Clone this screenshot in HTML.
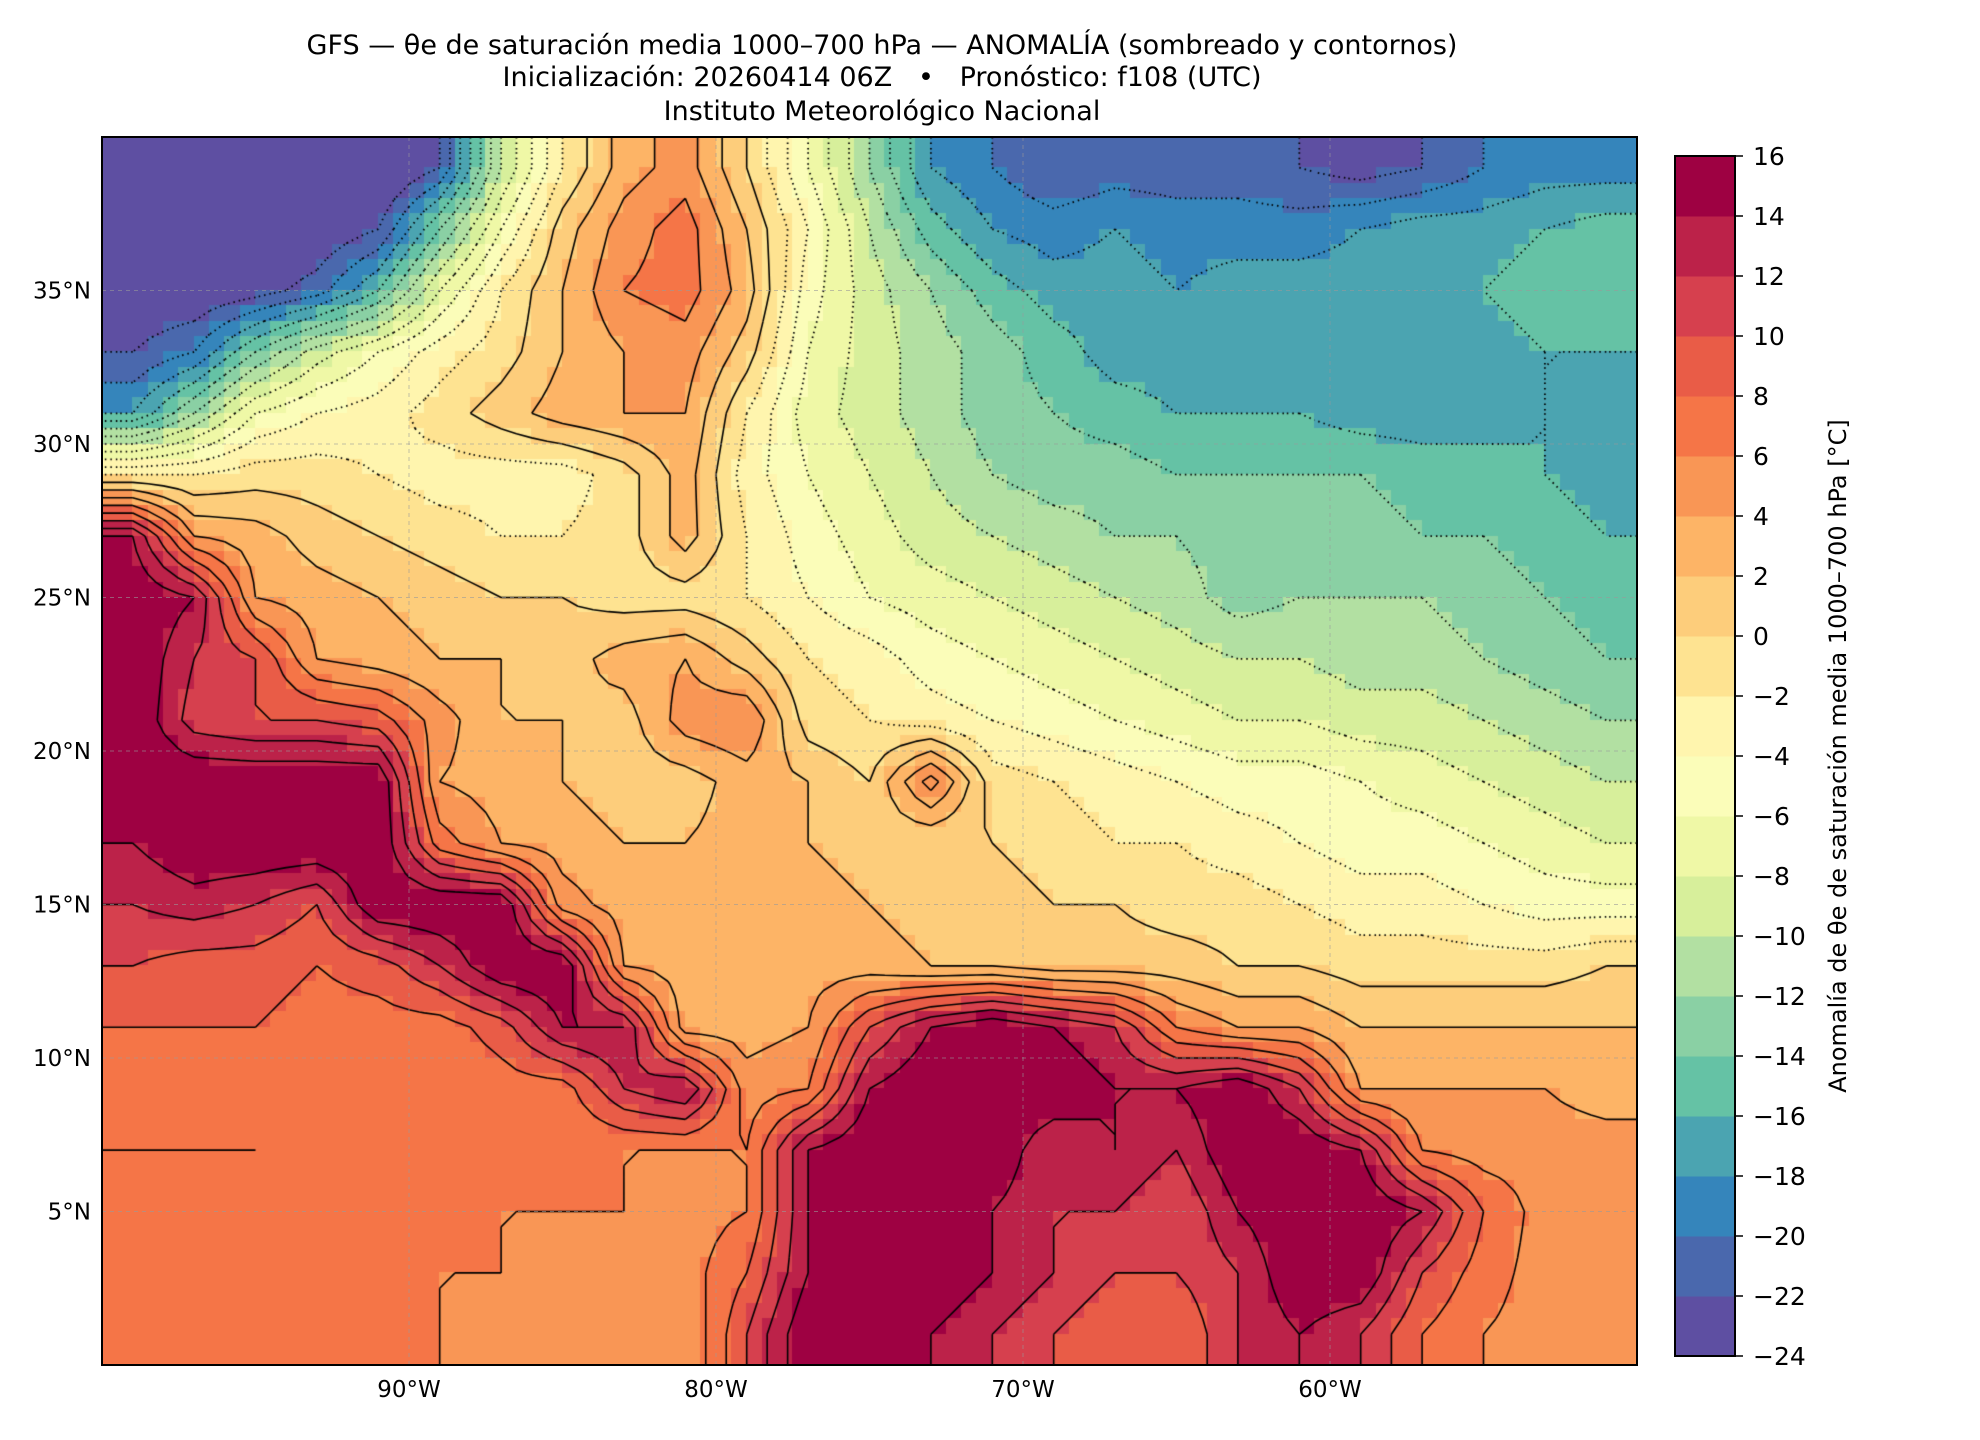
<!DOCTYPE html>
<html><head><meta charset="utf-8">
<style>
html,body{margin:0;padding:0;background:#fff;}
#wrap{position:relative;width:1980px;height:1440px;font-family:"DejaVu Sans","Liberation Sans",sans-serif;color:#000;}
.t{position:absolute;white-space:nowrap;}
</style></head>
<body>
<div id="wrap">
<div class="t" style="left:882px;top:30px;transform:translateX(-50%);font-size:27px;">GFS — θe de saturación media 1000–700 hPa — ANOMALÍA (sombreado y contornos)</div>
<div class="t" style="left:882px;top:62px;transform:translateX(-50%);font-size:27px;">Inicialización: 20260414 06Z &nbsp; • &nbsp; Pronóstico: f108 (UTC)</div>
<div class="t" style="left:882px;top:96px;transform:translateX(-50%);font-size:27px;">Instituto Meteorológico Nacional</div>
<canvas id="map" width="1535" height="1228" style="position:absolute;left:102px;top:137px;"></canvas>
<svg id="svg" width="1980" height="1440" style="position:absolute;left:0;top:0;"></svg>
</div>
<script>
const lonMin=-100, lonMax=-50, latMin=0, latMax=40;
const levels=[-24,-22,-20,-18,-16,-14,-12,-10,-8,-6,-4,-2,0,2,4,6,8,10,12,14,16];
const colors=["#5e4fa2","#4a68ad","#3585bb","#4ba4b1","#65c2a5","#8ad0a4","#b2e0a2","#d7ef9b","#eff8a6","#fbfdb9","#fff5ae","#fee391","#fdcd7b","#fdb466","#f99655","#f57547","#e95c47","#d6404e","#bc2249","#9e0142"];
const lonTicks=[-90,-80,-70,-60];
const lonTickLabels=["90°W","80°W","70°W","60°W"];
const latTicks=[5,10,15,20,25,30,35];
const latTickLabels=["5°N","10°N","15°N","20°N","25°N","30°N","35°N"];
const gridLons=[-99,-97,-95,-93,-91,-89,-87,-85,-83,-81,-79,-77,-75,-73,-71,-69,-67,-65,-63,-61,-59,-57,-55,-53,-51];
const gridLats=[39,37,35,33,31,29,27,25,23,21,19,17,15,13,11,9,7,5,3,1];
const anomaly=[
[-25,-25,-25,-25,-25,-22,-10,-2,3,5,0,-6,-12,-18,-20,-22,-21,-21,-21,-22,-23,-22,-20,-19,-19],
[-25,-25,-25,-24,-22,-14,-6,1,5,7,2,-4,-10,-15,-18,-19,-18,-19,-19,-19,-18,-17,-17,-16,-15],
[-24,-24,-23,-21,-16,-8,-2,2,6,7,3,-5,-9,-12,-15,-17,-17,-18,-17,-17,-17,-17,-16,-15,-15],
[-22,-20,-14,-9,-6,-3,-1,2,4,5,1,-6,-9,-11,-13,-15,-17,-17,-17,-17,-17,-17,-17,-16,-16],
[-18,-12,-6,-4,-3,-1,1,3,4,4,-2,-7,-9,-11,-13,-14,-15,-16,-16,-16,-17,-17,-17,-16,-17],
[-2,-2,-1,-1,-2,-3,-3,-3,-1,3,-3,-6,-8,-10,-12,-13,-13,-14,-14,-14,-14,-15,-15,-16,-17],
[14,4,3,1,0,-1,-2,-2,-1,3,-2,-5,-7,-9,-10,-11,-12,-12,-13,-13,-13,-14,-14,-15,-16],
[16,14,4,3,2,1,0,0,-1,-1,-2,-4,-6,-7,-8,-9,-10,-11,-13,-12,-12,-12,-13,-14,-15],
[16,12,10,4,3,2,2,1,3,4,1,-2,-3,-5,-6,-7,-8,-9,-10,-10,-11,-11,-12,-13,-14],
[16,11,10,10,9,5,2,2,1,5,6,-1,-2,-3,-4,-5,-6,-7,-8,-8,-9,-9,-10,-11,-12],
[16,16,16,16,16,4,3,2,1,1,3,2,0,7,-1,-2,-3,-4,-5,-5,-6,-7,-8,-9,-10],
[14,16,16,16,16,7,4,3,2,2,3,2,1,0,0,-1,-2,-2,-3,-4,-5,-5,-6,-7,-8],
[12,13,12,10,16,16,16,5,3,3,3,3,2,1,1,0,0,-1,-1,-2,-3,-3,-4,-5,-5],
[10,9,9,8,9,12,16,16,4,3,3,3,3,2,2,1,1,1,0,0,-1,-1,-1,-1,0],
[8,8,8,7,7,7,9,14,14,3,3,4,10,14,16,14,12,6,4,4,2,2,2,2,2],
[7,7,7,7,6,6,7,7,12,14,5,6,14,16,16,16,14,14,16,12,4,4,4,4,3],
[8,8,8,7,6,6,6,6,6,6,6,14,16,16,16,12,14,12,16,16,14,6,5,5,5],
[7,7,7,7,6,6,6,6,6,5,6,14,16,16,14,12,12,10,14,16,16,14,8,5,5],
[6,6,6,6,6,6,6,5,5,5,8,14,16,16,14,12,10,10,12,16,16,10,7,5,5],
[6,6,6,6,6,6,5,5,5,4,10,16,16,14,12,10,8,8,12,14,12,8,6,5,5]
];
const L=102,T=137,W=1535,H=1228;
const xS=lon=>L+(lon-lonMin)/(lonMax-lonMin)*W;
const yS=lat=>T+(latMax-lat)/(latMax-latMin)*H;
function colorFor(v){let i=0;while(i<levels.length-2&&v>=levels[i+1])i++;return colors[i];}
function sample(lon,lat){
  let fx=(lon-gridLons[0])/2, fy=(gridLats[0]-lat)/2;
  fx=Math.max(0,Math.min(gridLons.length-1,fx)); fy=Math.max(0,Math.min(gridLats.length-1,fy));
  const i0=Math.floor(fx),j0=Math.floor(fy),i1=Math.min(i0+1,gridLons.length-1),j1=Math.min(j0+1,gridLats.length-1);
  const ax=fx-i0,ay=fy-j0;
  return anomaly[j0][i0]*(1-ax)*(1-ay)+anomaly[j0][i1]*ax*(1-ay)+anomaly[j1][i0]*(1-ax)*ay+anomaly[j1][i1]*ax*ay;
}
const ctx=document.getElementById('map').getContext('2d');
const step=0.5;
for(let lat=latMax;lat>latMin;lat-=step){
  for(let lon=lonMin;lon<lonMax;lon+=step){
    ctx.fillStyle=colorFor(sample(lon+step/2,lat-step/2));
    const x0=xS(lon)-L,y0=yS(lat)-T;
    ctx.fillRect(Math.floor(x0),Math.floor(y0),Math.ceil(xS(lon+step)-xS(lon))+1,Math.ceil(yS(lat-step)-yS(lat))+1);
  }
}
// contour lines via marching squares on the interpolated field
const cs=0.5;
ctx.strokeStyle='#000';
for(let k=1;k<levels.length-1;k++){
  const lv=levels[k];
  ctx.lineWidth=lv<0?1.8:1.6;
  ctx.setLineDash(lv<0?[1.5,4]:[]);
  ctx.beginPath();
  for(let lat=latMax;lat>latMin+1e-9;lat-=cs){
    for(let lon=lonMin;lon<lonMax-1e-9;lon+=cs){
      const a=sample(lon,lat),b=sample(lon+cs,lat),c=sample(lon+cs,lat-cs),d=sample(lon,lat-cs);
      const pts=[];
      const e=(v1,v2,p1,p2)=>{if((v1<lv)!==(v2<lv)){const t=(lv-v1)/(v2-v1);pts.push([p1[0]+(p2[0]-p1[0])*t,p1[1]+(p2[1]-p1[1])*t]);}};
      const P0=[lon,lat],P1=[lon+cs,lat],P2=[lon+cs,lat-cs],P3=[lon,lat-cs];
      e(a,b,P0,P1);e(b,c,P1,P2);e(c,d,P2,P3);e(d,a,P3,P0);
      for(let q=0;q+1<pts.length;q+=2){
        ctx.moveTo(xS(pts[q][0])-L,yS(pts[q][1])-T);
        ctx.lineTo(xS(pts[q+1][0])-L,yS(pts[q+1][1])-T);
      }
    }
  }
  ctx.stroke();
}
ctx.setLineDash([]);
const NS="http://www.w3.org/2000/svg";
const svg=document.getElementById('svg');
function mk(tag,attrs){const e=document.createElementNS(NS,tag);for(const k in attrs)e.setAttribute(k,attrs[k]);svg.appendChild(e);return e;}
const FF='DejaVu Sans, Liberation Sans, sans-serif';
lonTicks.forEach((lon,i)=>{
  const g=mk('line',{x1:xS(lon),x2:xS(lon),y1:T,y2:T+H,stroke:'#999','stroke-width':1,'stroke-dasharray':'4,4',opacity:0.6});
  
  
  const t=mk('text',{x:xS(lon),y:1397,'text-anchor':'middle','font-size':23,'font-family':FF});
  t.textContent=lonTickLabels[i];
  
  
});
latTicks.forEach((lat,i)=>{
  const g=mk('line',{x1:L,x2:L+W,y1:yS(lat),y2:yS(lat),stroke:'#999','stroke-width':1,'stroke-dasharray':'4,4',opacity:0.6});
  
  
  const t=mk('text',{x:91,y:yS(lat)+8,'text-anchor':'end','font-size':23,'font-family':FF});
  t.textContent=latTickLabels[i];
  
  
});
const fr=mk('rect',{x:L,y:T,width:W,height:H,fill:'none',stroke:'#000','stroke-width':2});


// colorbar
const cbL=1675,cbW=60,cbT=156,cbB=1356;
const cbY=v=>cbB-(v-levels[0])/(levels[levels.length-1]-levels[0])*(cbB-cbT);
colors.forEach((c,i)=>{
  const r=mk('rect',{x:cbL,y:cbY(levels[i+1]),width:cbW,height:cbY(levels[i])-cbY(levels[i+1])+0.5,fill:c});
  
  
});
levels.forEach(v=>{
  const tk=mk('line',{x1:cbL+cbW,x2:cbL+cbW+8,y1:cbY(v),y2:cbY(v),stroke:'#000','stroke-width':1.5});
  
  
  const t=mk('text',{x:cbL+cbW+18,y:cbY(v)+9,'font-size':25,'font-family':FF});
  t.textContent=(v<0?'\u2212'+(-v):String(v));
  
  
});
const cf=mk('rect',{x:cbL,y:cbT,width:cbW,height:cbB-cbT,fill:'none',stroke:'#000','stroke-width':2});


const cl=mk('text',{x:0,y:0,'text-anchor':'middle','font-size':24,'font-family':FF,transform:'translate(1846,756) rotate(-90)'});
cl.textContent='Anomalía de θe de saturación media 1000–700 hPa [°C]';


</script>
</body></html>
